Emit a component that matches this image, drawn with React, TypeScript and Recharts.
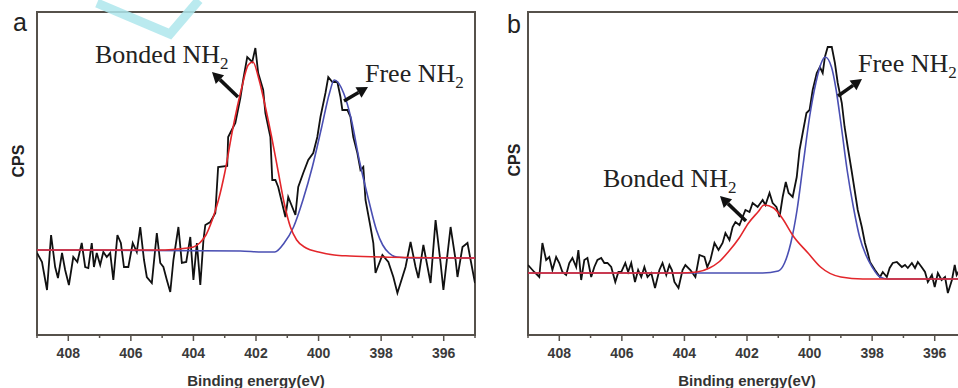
import { Line, LineChart, ReferenceArea, XAxis, YAxis } from 'recharts';

// binding energy (eV) ticks, majors are labelled
const energyTicks = [395, 396, 397, 398, 399, 400, 401, 402, 403, 404, 405, 406, 407, 408, 409];

// panel a: measured spectrum [eV, cps]
const measuredA: Array<[number, number]> = [
  [409.0, 82], [408.84, 73], [408.68, 45], [408.55, 100], [408.42, 68], [408.33, 57], [408.2, 82], [408.1, 65],
  [407.98, 50], [407.84, 78], [407.71, 73], [407.57, 92], [407.46, 68], [407.36, 67], [407.25, 92], [407.18, 68],
  [407.09, 82], [406.98, 70], [406.88, 83], [406.77, 78], [406.66, 82], [406.56, 55], [406.43, 100], [406.32, 92],
  [406.22, 68], [406.08, 68], [405.94, 92], [405.81, 83], [405.7, 108], [405.58, 75], [405.49, 58], [405.33, 52],
  [405.17, 102], [405.06, 72], [404.96, 68], [404.85, 55], [404.74, 43], [404.64, 75], [404.48, 108], [404.37, 72],
  [404.23, 73], [404.1, 98], [404.0, 55], [403.89, 92], [403.78, 50], [403.68, 95], [403.62, 110], [403.46, 113],
  [403.3, 122], [403.21, 168], [402.92, 169], [402.89, 198], [402.66, 212], [402.5, 237], [402.41, 255], [402.28, 278],
  [402.12, 273], [402.02, 287], [401.93, 262], [401.77, 245], [401.7, 222], [401.54, 198], [401.48, 155], [401.38, 155],
  [401.29, 148], [401.06, 118], [400.97, 138], [400.74, 120], [400.65, 148], [400.49, 162], [400.33, 175], [400.17, 182],
  [400.04, 198], [399.94, 218], [399.78, 242], [399.69, 258], [399.56, 253], [399.4, 253], [399.3, 238], [399.24, 225],
  [399.08, 225], [398.98, 218], [398.89, 198], [398.76, 182], [398.66, 165], [398.57, 168], [398.5, 135], [398.34, 108],
  [398.25, 92], [398.18, 62], [397.96, 80], [397.77, 73], [397.61, 58], [397.48, 42], [397.22, 68], [397.06, 93],
  [396.9, 68], [396.81, 57], [396.65, 90], [396.42, 52], [396.26, 115], [396.1, 72], [396.01, 45], [395.78, 108],
  [395.62, 75], [395.56, 58], [395.4, 88], [395.24, 92], [395.14, 75], [395.0, 52],
];

// panel a: fitted components
const bondedFitA: Array<[number, number]> = [
  [409.0, 85], [405.0, 85], [404.5, 86], [404.0, 88], [403.8, 92], [403.6, 100], [403.4, 115], [403.2, 135],
  [403.0, 162], [402.75, 205], [402.45, 248], [402.25, 270], [402.1, 273], [401.9, 255], [401.7, 228], [401.5, 198],
  [401.3, 165], [401.1, 132], [400.9, 108], [400.7, 95], [400.4, 87], [400.0, 83], [399.5, 80], [399.0, 79],
  [398.0, 78], [395.0, 77],
];
const freeFitA: Array<[number, number]> = [
  [409.0, 85], [402.5, 84], [401.8, 83], [401.4, 83], [401.1, 92], [400.8, 108], [400.5, 135], [400.2, 168],
  [399.9, 208], [399.65, 242], [399.5, 255], [399.2, 242], [398.95, 215], [398.7, 175], [398.4, 135], [398.15, 105],
  [397.95, 90], [397.75, 82], [397.5, 78], [397.0, 77], [395.0, 77],
];

// panel b: measured spectrum [eV, cps]
const measuredB: Array<[number, number]> = [
  [409.0, 70], [408.8, 63], [408.64, 58], [408.54, 92], [408.42, 75], [408.32, 78], [408.22, 65], [408.1, 78],
  [408.0, 72], [407.9, 63], [407.78, 60], [407.68, 72], [407.58, 77], [407.46, 68], [407.39, 85], [407.3, 55],
  [407.2, 75], [407.1, 77], [406.98, 58], [406.88, 68], [406.78, 75], [406.66, 77], [406.56, 72], [406.46, 72],
  [406.34, 68], [406.21, 53], [406.11, 63], [406.02, 63], [405.89, 72], [405.8, 63], [405.7, 72], [405.58, 53],
  [405.48, 65], [405.38, 58], [405.28, 68], [405.18, 58], [405.06, 62], [404.94, 47], [404.8, 65], [404.7, 72],
  [404.58, 60], [404.48, 70], [404.4, 65], [404.32, 53], [404.19, 47], [404.06, 65], [403.97, 70], [403.81, 65],
  [403.65, 58], [403.52, 80], [403.36, 78], [403.27, 68], [403.17, 75], [403.04, 92], [402.91, 85], [402.78, 92],
  [402.69, 102], [402.56, 95], [402.46, 108], [402.37, 113], [402.24, 110], [402.14, 118], [402.05, 125], [401.92, 123],
  [401.82, 132], [401.66, 128], [401.5, 135], [401.41, 130], [401.28, 142], [401.18, 132], [401.06, 128], [400.96, 118],
  [400.86, 138], [400.76, 153], [400.67, 142], [400.54, 138], [400.41, 158], [400.32, 185], [400.22, 202], [400.1, 222],
  [400.0, 225], [399.9, 245], [399.77, 262], [399.67, 268], [399.58, 262], [399.51, 278], [399.42, 288], [399.29, 288],
  [399.19, 272], [399.1, 252], [398.97, 232], [398.88, 208], [398.78, 188], [398.66, 165], [398.56, 145], [398.46, 125],
  [398.33, 108], [398.23, 92], [398.14, 82], [398.07, 73], [397.91, 65], [397.75, 58], [397.66, 63], [397.53, 58],
  [397.44, 67], [397.34, 72], [397.21, 73], [397.05, 68], [396.95, 70], [396.86, 67], [396.73, 72], [396.63, 67],
  [396.54, 73], [396.42, 68], [396.31, 63], [396.22, 53], [396.09, 60], [396.0, 48], [395.9, 62], [395.78, 55],
  [395.67, 58], [395.58, 42], [395.45, 55], [395.36, 70], [395.3, 60], [395.17, 67], [395.0, 63],
];

const bondedFitB: Array<[number, number]> = [
  [409.0, 62], [405.0, 62], [404.2, 62], [403.6, 63], [403.2, 67], [402.9, 73], [402.6, 83], [402.25, 97],
  [401.95, 112], [401.65, 123], [401.45, 130], [401.15, 127], [400.9, 118], [400.5, 98], [400.05, 82], [399.65, 68],
  [399.0, 58], [398.3, 56], [395.0, 56],
];
const freeFitB: Array<[number, number]> = [
  [409.0, 62], [401.5, 62], [401.0, 64], [400.8, 72], [400.6, 92], [400.4, 125], [400.2, 172], [400.0, 218],
  [399.8, 252], [399.6, 274], [399.5, 278], [399.3, 268], [399.15, 245], [399.0, 212], [398.8, 165], [398.6, 128],
  [398.4, 98], [398.2, 80], [398.0, 68], [397.75, 58], [397.5, 56], [395.0, 56],
];

const FRAME = '#56514b';
const SANS = '"Liberation Sans", Arial, sans-serif';
const SERIF = '"Liberation Serif", "Times New Roman", serif';

const rows = (pts: Array<[number, number]>) => pts.map(([e, cps]) => ({ e, cps }));

function EnergyTick({ x, y, payload }: any) {
  const major = payload.value % 2 === 0;
  return (
    <g>
      <line x1={x} x2={x} y1={y} y2={y + (major ? 6 : 3)} stroke={FRAME} strokeWidth={1.5} />
      {major && (
        <text x={x} y={y + 23} textAnchor="middle" fontFamily={SANS} fontWeight="bold" fontSize={14} fill="#3a3a3a">
          {payload.value}
        </text>
      )}
    </g>
  );
}

function XpsPanel({ measured, bonded, free, width, left }: {
  measured: Array<[number, number]>; bonded: Array<[number, number]>; free: Array<[number, number]>;
  width: number; left: number;
}) {
  return (
    <LineChart width={width} height={388} margin={{ top: 12, right: 15, bottom: 0, left }}>
      <XAxis
        dataKey="e" type="number" domain={[395, 409]} reversed allowDataOverflow ticks={energyTicks}
        height={53} tickSize={0} tickMargin={0} tick={<EnergyTick />}
        axisLine={{ stroke: FRAME, strokeWidth: 2 }}
      />
      <YAxis type="number" domain={[0, 323]} width={0} hide />
      <ReferenceArea x1={409} x2={395} y1={0} y2={323} fill="none" fillOpacity={0} stroke={FRAME} strokeWidth={2} />
      <Line data={rows(measured)} dataKey="cps" type="linear" stroke="#111" strokeWidth={1.8} dot={false} isAnimationActive={false} />
      <Line data={rows(free)} dataKey="cps" type="monotone" stroke="#4a4fb3" strokeWidth={1.6} dot={false} isAnimationActive={false} />
      <Line data={rows(bonded)} dataKey="cps" type="monotone" stroke="#e3262b" strokeWidth={1.6} dot={false} isAnimationActive={false} />
    </LineChart>
  );
}

function Arrow({ x1, y1, x2, y2 }: { x1: number; y1: number; x2: number; y2: number }) {
  const a = Math.atan2(y2 - y1, x2 - x1);
  const len = 11, half = 6;
  const bx = x2 - len * Math.cos(a), by = y2 - len * Math.sin(a);
  const px = -Math.sin(a) * half, py = Math.cos(a) * half;
  return (
    <g>
      <line x1={x1} y1={y1} x2={bx} y2={by} stroke="#111" strokeWidth={3.5} />
      <polygon points={`${x2},${y2} ${bx + px},${by + py} ${bx - px},${by - py}`} fill="#111" />
    </g>
  );
}

function NH2({ x, y, label }: { x: number; y: number; label: string }) {
  return (
    <text x={x} y={y} fontFamily={SERIF} fontSize={26} fill="#222">
      {label} NH<tspan fontSize={17} dy={6}>2</tspan>
    </text>
  );
}

export default function App() {
  return (
    <div style={{ position: 'absolute', left: 0, top: 0, width: 958, height: 388, overflow: 'hidden', background: '#fff' }}>
      <div style={{ position: 'absolute', left: 0, top: 0 }}>
        <XpsPanel measured={measuredA} bonded={bondedFitA} free={freeFitA} width={490} left={37} />
      </div>
      <div style={{ position: 'absolute', left: 478, top: 0 }}>
        <XpsPanel measured={measuredB} bonded={bondedFitB} free={freeFitB} width={503} left={50} />
      </div>
      <svg width={958} height={388} style={{ position: 'absolute', left: 0, top: 0, pointerEvents: 'none' }}>
        <polyline points="97,3 170,34 199,0" fill="none" stroke="#aee6ec" strokeWidth={9} strokeLinejoin="miter" opacity={0.85} />
        <text x={20} y={31} textAnchor="middle" fontFamily={SANS} fontSize={25} fill="#222">a</text>
        <text x={514} y={33} textAnchor="middle" fontFamily={SANS} fontSize={25} fill="#222">b</text>
        <text transform="translate(24,161) rotate(-90)" textAnchor="middle" fontFamily={SANS} fontWeight="bold" fontSize={16} fill="#222">CPS</text>
        <text transform="translate(520,160) rotate(-90)" textAnchor="middle" fontFamily={SANS} fontWeight="bold" fontSize={16} fill="#222">CPS</text>
        <text x={256} y={386} textAnchor="middle" fontFamily={SANS} fontWeight="bold" fontSize={15} fill="#333">Binding energy(eV)</text>
        <text x={747} y={386} textAnchor="middle" fontFamily={SANS} fontWeight="bold" fontSize={15} fill="#333">Binding energy(eV)</text>
        <NH2 x={95} y={63} label="Bonded" />
        <NH2 x={365} y={82} label="Free" />
        <NH2 x={858} y={72} label="Free" />
        <NH2 x={603} y={187} label="Bonded" />
        <Arrow x1={238} y1={97} x2={212} y2={72} />
        <Arrow x1={344} y1={101} x2={368} y2={87} />
        <Arrow x1={746} y1={221} x2={720} y2={196} />
        <Arrow x1={838} y1={96} x2={862} y2={79} />
      </svg>
    </div>
  );
}
